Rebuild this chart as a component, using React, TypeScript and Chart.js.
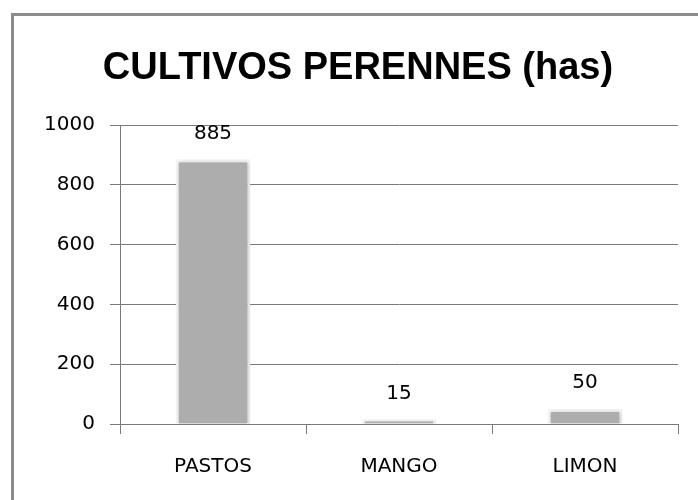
import React, { useEffect, useRef } from "react";
import { Chart, registerables } from "chart.js";

Chart.register(...registerables);

const chartTitle = "CULTIVOS PERENNES (has)";
const categories = ["PASTOS", "MANGO", "LIMON"];
const values = [885, 15, 50];
const yMin = 0;
const yMax = 1000;
const yStep = 200;

const GRAY = "#7a7a7a";
const FONT = "'DejaVu Sans', Verdana, sans-serif";

const framePlugin = {
  id: "frame",
  beforeDraw(chart: any) {
    const ctx = chart.ctx;
    ctx.save();
    ctx.fillStyle = "#ffffff";
    ctx.fillRect(0, 0, chart.width, chart.height);
    ctx.strokeStyle = "#8c8c8c";
    ctx.lineWidth = 3;
    ctx.strokeRect(12.5, 14.5, chart.width + 20, chart.height + 20);
    ctx.restore();
  },
};

const titlePlugin = {
  id: "customTitle",
  afterDraw(chart: any) {
    const ctx = chart.ctx;
    ctx.save();
    ctx.fillStyle = "#000";
    ctx.font = "bold 38px 'Liberation Sans', Arial, sans-serif";
    ctx.textAlign = "center";
    ctx.textBaseline = "alphabetic";
    ctx.fillText(chartTitle, 358, 79);
    ctx.restore();
  },
};

const shadowPlugin = {
  id: "barShadow",
  beforeDatasetsDraw(chart: any) {
    const ctx = chart.ctx;
    ctx.save();
    ctx.shadowColor = "rgba(0,0,0,0.22)";
    ctx.shadowBlur = 4;
    ctx.shadowOffsetX = 1;
    ctx.shadowOffsetY = 1;
  },
  afterDatasetsDraw(chart: any) {
    chart.ctx.restore();
  },
};

const valueLabelPlugin = {
  id: "valueLabels",
  afterDatasetsDraw(chart: any) {
    const ctx = chart.ctx;
    const meta = chart.getDatasetMeta(0);
    ctx.save();
    ctx.fillStyle = "#000";
    ctx.font = `20px ${FONT}`;
    ctx.textAlign = "center";
    ctx.textBaseline = "middle";
    meta.data.forEach((bar: any, i: number) => {
      ctx.fillText(String(values[i]), bar.x, bar.y - 26);
    });
    ctx.restore();
  },
};

export default function App() {
  const ref = useRef<HTMLCanvasElement | null>(null);

  useEffect(() => {
    if (!ref.current) return;
    const chart = new Chart(ref.current, {
      type: "bar",
      data: {
        labels: categories,
        datasets: [
          {
            data: values,
            backgroundColor: "#adadad",
            borderColor: "#f4f4f4",
            borderWidth: 3,
            barPercentage: 0.4,
            categoryPercentage: 1,
          },
        ],
      },
      options: {
        responsive: false,
        animation: false,
        devicePixelRatio: 1,
        layout: { padding: { top: 125, left: 0, right: 20, bottom: 0 } },
        plugins: {
          legend: { display: false },
          title: { display: false },
          tooltip: { enabled: false },
        },
        scales: {
          x: {
            afterFit(scale: any) {
              scale.height = 76;
            },
            grid: {
              offset: true,
              drawOnChartArea: false,
              drawTicks: true,
              tickLength: 10,
              color: GRAY,
            },
            border: { display: true, color: GRAY, width: 1 },
            ticks: {
              color: "#000",
              font: { family: FONT, size: 20 },
              padding: 21,
              maxRotation: 0,
            },
          },
          y: {
            min: yMin,
            max: yMax,
            afterFit(scale: any) {
              scale.width = 120;
            },
            grid: {
              color: GRAY,
              drawTicks: true,
              tickLength: 10,
            },
            border: { display: true, color: GRAY, width: 1 },
            ticks: {
              stepSize: yStep,
              color: "#000",
              font: { family: FONT, size: 20 },
              padding: 15,
              callback: (v: any) => String(v),
            },
          },
        },
      },
      plugins: [framePlugin, shadowPlugin, valueLabelPlugin, titlePlugin],
    });
    return () => chart.destroy();
  }, []);

  return (
    <div style={{ position: "absolute", left: 0, top: 0, width: 698, height: 500 }}>
      <canvas ref={ref} width={698} height={500} style={{ width: 698, height: 500 }} />
    </div>
  );
}
